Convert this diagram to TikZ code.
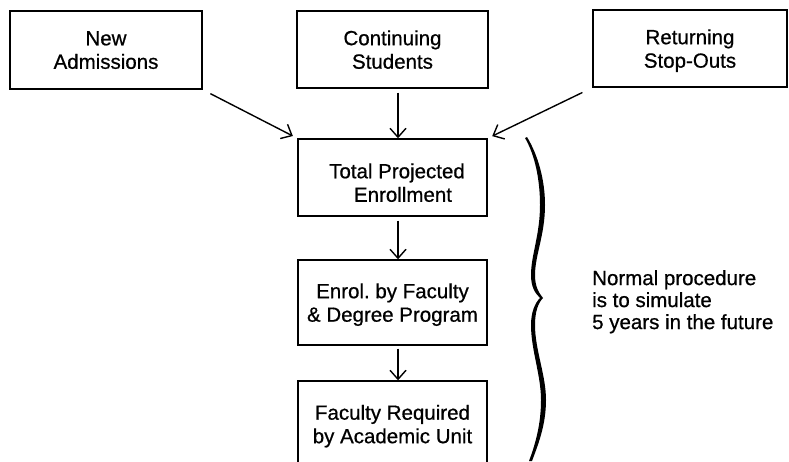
\documentclass[tikz,border=0pt]{standalone}
\usepackage{fontspec}
\setmainfont{Liberation Sans}[FakeBold=0.7]
\usetikzlibrary{arrows.meta}
\begin{document}
\begin{tikzpicture}[x=1pt,y=-1pt,
  box/.style={draw, line width=1.4pt, minimum width=190pt, minimum height=78pt,
    inner sep=0pt, align=center, text depth=0pt,
    font=\fontsize{20.5}{23.5}\selectfont},
  flow/.style={line width=1.4pt, -{Straight Barb[length=9pt,width=16pt]}},
  note/.style={align=left, anchor=north west, inner sep=0pt,
    font=\fontsize{20.5}{22}\selectfont}]
\useasboundingbox (0,0) rectangle (789,461);
\clip (0,0) rectangle (789,461);

% sources of students
\node[box, minimum width=192pt] (new) at (106,50) {New\\Admissions};
\node[box, minimum width=191pt, minimum height=77pt] (cont) at (392.5,49.5) {Continuing\\Students};
\node[box, minimum width=194pt, minimum height=77pt] (ret) at (690,48.5) {Returning\\Stop-Outs};

% simulation chain
\node[box, minimum width=189pt, minimum height=77pt] (total) at (392.5,177.5)
  {\rule{0pt}{25pt}\hspace*{9pt}Total Projected\\\hspace*{21pt}Enrollment};
\node[box, minimum width=189pt, minimum height=85pt] (enrol) at (392.5,302.5)
  {Enrol.\ by Faculty\\\& Degree Program};
\node[box, minimum width=189pt, minimum height=86pt] (fac) at (392.5,424)
  {Faculty Required\\by Academic Unit};

% connectors
\draw[flow, shorten <=8.6pt, shorten >=5pt] (new.south east) -- (total.north west);
\draw[flow, shorten <=11pt, shorten >=5pt] (ret.south west) -- (total.north east);
\draw[flow, shorten <=4pt] ([xshift=5.5pt]cont.south) -- ([xshift=5.5pt]total.north);
\draw[flow, shorten <=4pt] ([xshift=5.5pt]total.south) -- ([xshift=5.5pt]enrol.north);
\draw[flow, shorten <=3pt] ([xshift=5.5pt]enrol.south) -- ([xshift=5.5pt]fac.north);

% curly brace grouping the chain
\fill (527,137) .. controls (538,155) and (545,180) .. (545,205)
  .. controls (545,235) and (535,255) .. (535,275)
  .. controls (535,287) and (539,293) .. (543,298)
  .. controls (538,303) and (535,312) .. (535,325)
  .. controls (535,350) and (546,375) .. (546,400)
  .. controls (546,425) and (538,445) .. (532,461)
  -- (529,461)
  .. controls (535,445) and (541,425) .. (541,400)
  .. controls (541,375) and (531,350) .. (531,325)
  .. controls (531,312) and (535,303) .. (540,298)
  .. controls (535,293) and (531,287) .. (531,275)
  .. controls (531,255) and (540,235) .. (540,205)
  .. controls (540,180) and (535,155) .. (525,138) -- cycle;

\node[note] (proc) at (592,270) {Normal procedure\\is to simulate\\5 years in the future};
\end{tikzpicture}
\end{document}
